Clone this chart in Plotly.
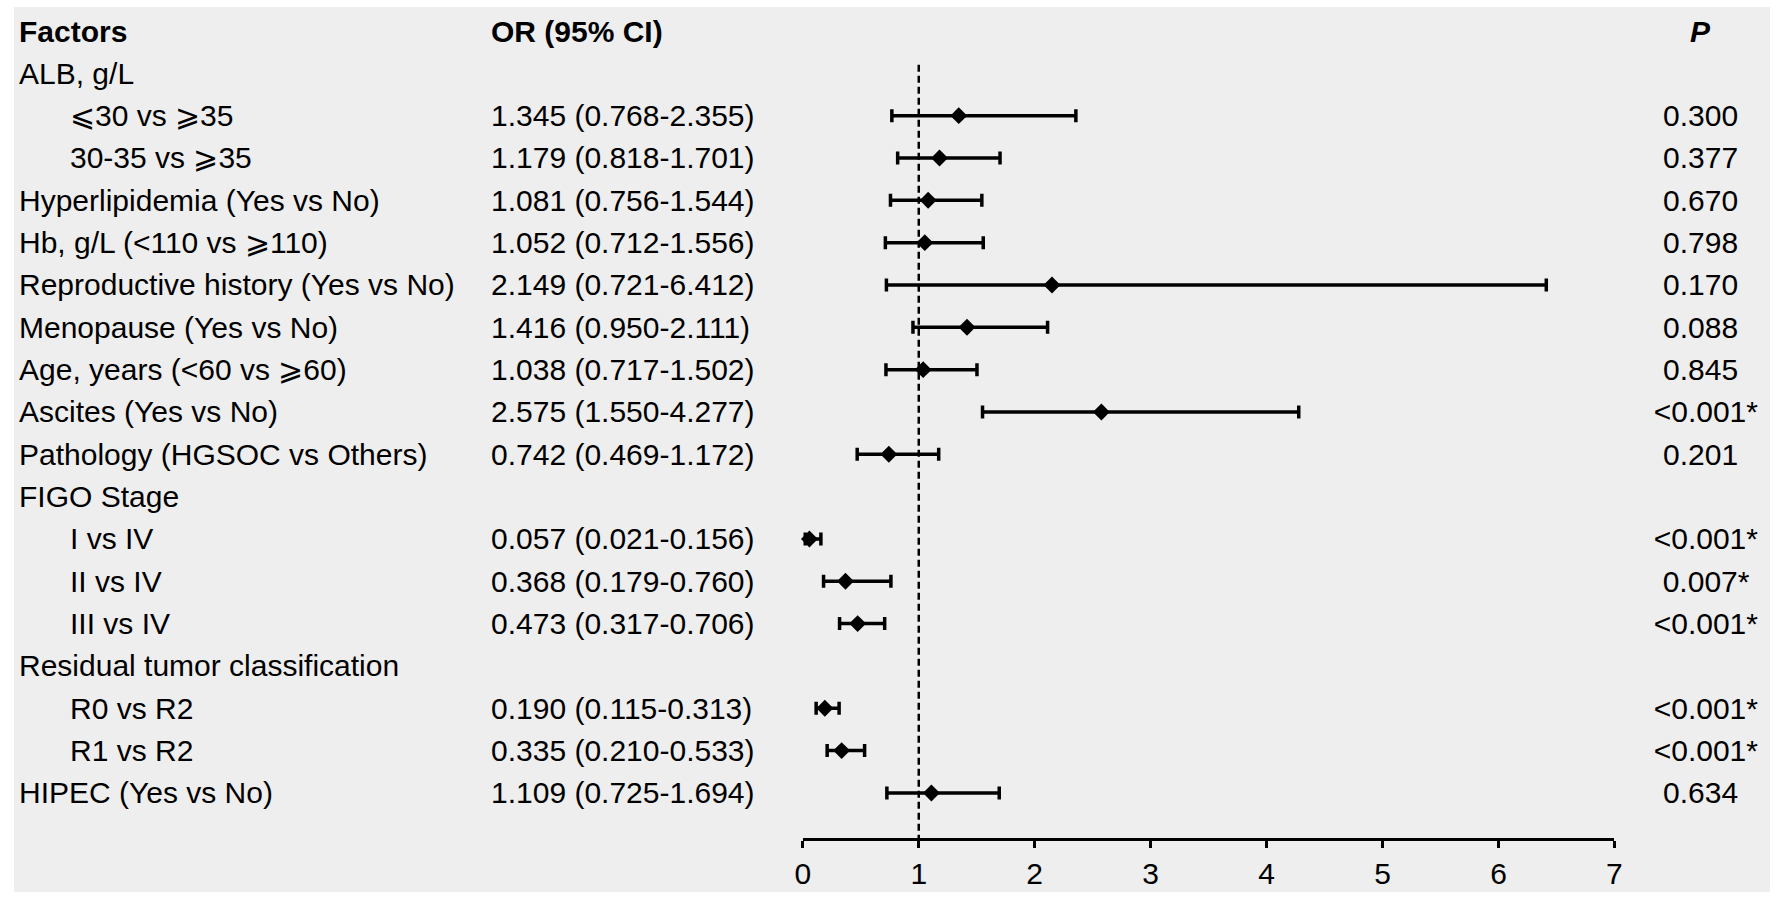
import plotly.graph_objects as go

# table rows (header row sits above these)
factors = ["ALB, g/L", "⩽30 vs ⩾35", "30-35 vs ⩾35", "Hyperlipidemia (Yes vs No)",
           "Hb, g/L (<110 vs ⩾110)", "Reproductive history (Yes vs No)", "Menopause (Yes vs No)",
           "Age, years (<60 vs ⩾60)", "Ascites (Yes vs No)", "Pathology (HGSOC vs Others)",
           "FIGO Stage", "I vs IV", "II vs IV", "III vs IV", "Residual tumor classification",
           "R0 vs R2", "R1 vs R2", "HIPEC (Yes vs No)"]
indented = [False, True, True, False, False, False, False, False, False, False,
            False, True, True, True, False, True, True, False]
odds = [None, 1.345, 1.179, 1.081, 1.052, 2.149, 1.416, 1.038, 2.575, 0.742,
        None, 0.057, 0.368, 0.473, None, 0.190, 0.335, 1.109]
ci_low = [None, 0.768, 0.818, 0.756, 0.712, 0.721, 0.950, 0.717, 1.550, 0.469,
          None, 0.021, 0.179, 0.317, None, 0.115, 0.210, 0.725]
ci_high = [None, 2.355, 1.701, 1.544, 1.556, 6.412, 2.111, 1.502, 4.277, 1.172,
           None, 0.156, 0.760, 0.706, None, 0.313, 0.533, 1.694]
p_vals = ["", "0.300", "0.377", "0.670", "0.798", "0.170", "0.088", "0.845", "<0.001*", "0.201",
          "", "<0.001*", "0.007*", "<0.001*", "", "<0.001*", "<0.001*", "0.634"]
x_ticks = [0, 1, 2, 3, 4, 5, 6, 7]

W, H = 1784, 899
FONT = "Liberation Sans, Arial, sans-serif"
FS = 30
axis_top, axis_bottom = 7, 838  # px of plot area
row0_px, row_step = 31, 42.33
y_top = (axis_top - row0_px) / row_step
y_bottom = (axis_bottom - row0_px) / row_step


def px_x(p):
    return p / W


rows = [i + 1 for i in range(len(factors))]
pts = [(r, o, lo, hi) for r, o, lo, hi in zip(rows, odds, ci_low, ci_high) if o is not None]

fig = go.Figure()
fig.add_trace(go.Scatter(
    x=[p[1] for p in pts], y=[p[0] for p in pts], mode="markers",
    marker=dict(symbol="diamond", size=13, color="black"),
    error_x=dict(type="data", symmetric=False,
                 array=[p[3] - p[1] for p in pts],
                 arrayminus=[p[1] - p[2] for p in pts],
                 color="black", thickness=3.5, width=6.5),
    cliponaxis=False, showlegend=False, hoverinfo="skip",
))

annotations = []


def add_text(text, x_px, row, anchor="left"):
    annotations.append(dict(text=text, x=px_x(x_px), xref="paper", y=row, yref="y",
                            xanchor=anchor, yanchor="middle", showarrow=False,
                            font=dict(family=FONT, size=FS, color="black")))


add_text("<b>Factors</b>", 9, 0)
add_text("<b>OR (95% CI)</b>", 485, 0)
add_text("<b><i>P</i></b>", 1707.5, 0, "center")

for r, name, ind, o, lo, hi, p in zip(rows, factors, indented, odds, ci_low, ci_high, p_vals):
    add_text(name, 61 if ind else 9, r)
    if o is not None:
        add_text(f"{o:.3f} ({lo:.3f}-{hi:.3f})", 485, r)
    if p:
        # centre the number, star hangs off the right
        if p.endswith("*"):
            p = '<span style="color:rgba(0,0,0,0)">*</span>' + p
        add_text(p, 1707.5, r, "center")

shapes = [
    dict(type="rect", xref="paper", yref="paper", x0=px_x(6), x1=px_x(1778),
         y0=(axis_bottom - 892) / (axis_bottom - axis_top), y1=1.0,
         fillcolor="#EEEEEE", line=dict(width=0), layer="below"),
    dict(type="line", xref="x", yref="y", x0=1, x1=1, y0=0.8, y1=y_bottom,
         line=dict(color="black", width=2.5, dash="7px,4px"), layer="below"),
]

fig.update_layout(
    width=W, height=H,
    margin=dict(l=0, r=0, t=axis_top, b=H - axis_bottom),
    paper_bgcolor="white", plot_bgcolor="rgba(0,0,0,0)",
    font=dict(family=FONT, size=FS, color="black"),
    xaxis=dict(domain=[px_x(802), px_x(1621)], range=[0, 7], tickvals=x_ticks,
               showline=True, linecolor="black", linewidth=2.5,
               ticks="outside", ticklen=7, tickwidth=2.5, tickcolor="black",
               showgrid=False, zeroline=False, tickfont=dict(size=FS, color="black")),
    yaxis=dict(range=[y_bottom, y_top], visible=False, showgrid=False, zeroline=False),
    annotations=annotations, shapes=shapes,
)

# page body has a default 8px margin; drop it so the figure sits at 0,0
fig.write_html("out.html", config={"displayModeBar": False},
               post_script="document.body.style.margin='0';")
